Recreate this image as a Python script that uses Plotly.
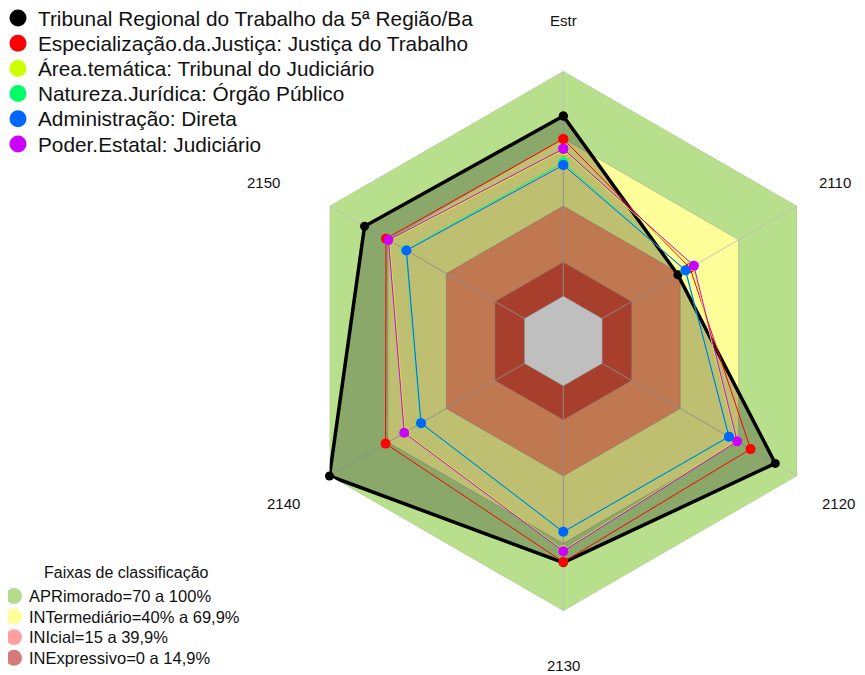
import plotly.graph_objects as go

# ---------------- data ----------------
axes_labels = ["Estr", "2110", "2120", "2130", "2140", "2150"]

series_names = [
    "Tribunal Regional do Trabalho da 5ª Região/Ba",
    "Especialização.da.Justiça: Justiça do Trabalho",
    "Área.temática: Tribunal do Judiciário",
    "Natureza.Jurídica: Órgão Público",
    "Administração: Direta",
    "Poder.Estatal: Judiciário",
]
tribunal = [80.0, 38.8, 88.8, 78.5, 100.0, 82.0]
especializacao = [69.8, 45.0, 76.1, 78.2, 71.2, 71.0]
area_tematica = [64.8, 46.5, 68.8, 73.0, 61.2, 69.3]
natureza = [59.3, 42.6, 65.2, 65.0, 53.2, 60.8]
administracao = [58.2, 42.8, 65.0, 64.8, 53.0, 60.5]
poder = [65.4, 47.0, 69.2, 73.4, 61.6, 69.7]
series_values = [tribunal, especializacao, area_tematica, natureza, administracao, poder]
series_colors = ["#000000", "#FF0000", "#CCFF00", "#00FF66", "#0066FF", "#CC00FF"]

band_title = "Faixas de classificação"
band_names = [
    "APRimorado=70 a 100%",
    "INTermediário=40% a 69,9%",
    "INIcial=15 a 39,9%",
    "INExpressivo=0 a 14,9%",
]
band_upper = [100, 70, 40, 15]
band_fill = ["#b8e08c", "#ffff99", "#ffa06b", "#e0553c"]
band_legend_colors = ["#b3dc8c", "#ffff99", "#ff9f9f", "#d47a7a"]
radial_min = -20

# ---------------- figure ----------------
W, H = 865, 675
OFF = 8  # page body margin of the viewer
FONT = "Liberation Sans, Arial, sans-serif"
closed_theta = axes_labels + axes_labels[:1]
fig = go.Figure()


def closed(vals):
    return list(vals) + [vals[0]]


# bands (outermost first)
for up, col in zip(band_upper, band_fill):
    fig.add_trace(go.Scatterpolar(
        r=closed([up] * len(axes_labels)), theta=closed_theta, mode="lines",
        fill="toself", fillcolor=col,
        line=dict(color="rgba(150,150,150,0.45)", width=1),
        showlegend=False, hoverinfo="skip"))
# empty centre (below 0)
fig.add_trace(go.Scatterpolar(
    r=closed([0] * len(axes_labels)), theta=closed_theta, mode="lines",
    fill="toself", fillcolor="#ffffff",
    line=dict(color="rgba(150,150,150,0.45)", width=1),
    showlegend=False, hoverinfo="skip"))

# spokes
sr, st = [], []
for a in axes_labels:
    sr += [0, band_upper[0], None]
    st += [a, a, None]
fig.add_trace(go.Scatterpolar(r=sr, theta=st, mode="lines",
                              line=dict(color="rgba(190,190,190,0.9)", width=1),
                              showlegend=False, hoverinfo="skip", connectgaps=False))

# series
for i, (name, vals, col) in enumerate(zip(series_names, series_values, series_colors)):
    first = i == 0
    fig.add_trace(go.Scatterpolar(
        r=closed(vals), theta=closed_theta, mode="lines+markers", name=name,
        fill="toself" if first else None,
        fillcolor="rgba(0,0,0,0.25)" if first else None,
        line=dict(color=col, width=3.5 if first else 1),
        marker=dict(color=col, size=9 if first else 10),
        showlegend=False))

# ---------- overlay in screen-pixel space (axis units = screenshot pixels) ----------
CX, CY = 563.3, 341.0
label_xy = [(563, 20), (835, 182), (838, 503), (563, 665), (283, 503), (263, 182)]
for lab, (lx, ly) in zip(axes_labels, label_xy):
    fig.add_annotation(x=lx, y=ly, xref="x", yref="y", text=lab, showarrow=False,
                       xanchor="center", yanchor="middle",
                       font=dict(size=15, color="#111", family=FONT))

leg1_x, leg1_y0, leg1_dy, leg1_text_x = 18, 18, 25.2, 36
leg1_y = [leg1_y0 + leg1_dy * i for i in range(len(series_names))]
fig.add_trace(go.Scatter(x=[leg1_x] * len(series_names), y=leg1_y, mode="markers",
                         marker=dict(color=series_colors, size=17),
                         showlegend=False, hoverinfo="skip", cliponaxis=False))
for name, y in zip(series_names, leg1_y):
    fig.add_annotation(x=leg1_text_x, y=y, xref="x", yref="y", text=name,
                       showarrow=False, xanchor="left", yanchor="middle",
                       font=dict(size=20.8, color="#111", family=FONT))

leg2_x, leg2_y0, leg2_dy, leg2_text_x = 14, 596, 20.6, 27
leg2_y = [leg2_y0 + leg2_dy * i for i in range(len(band_names))]
fig.add_trace(go.Scatter(x=[leg2_x] * len(band_names), y=leg2_y, mode="markers",
                         marker=dict(color=band_legend_colors, size=16),
                         showlegend=False, hoverinfo="skip", cliponaxis=False))
for name, y in zip(band_names, leg2_y):
    fig.add_annotation(x=leg2_text_x, y=y, xref="x", yref="y", text=name,
                       showarrow=False, xanchor="left", yanchor="middle",
                       font=dict(size=16.5, color="#111", family=FONT))
fig.add_annotation(x=126, y=572, xref="x", yref="y", text=band_title, showarrow=False,
                   xanchor="center", yanchor="middle",
                   font=dict(size=16, color="#111", family=FONT))

# polar placement (in figure pixels, corrected for the page offset)
pcx, pcy, phalf = CX - OFF, CY - OFF, 270.0
fig.update_layout(
    width=W, height=H,
    margin=dict(l=0, r=0, t=0, b=0, autoexpand=False),
    paper_bgcolor="white", plot_bgcolor="rgba(0,0,0,0)",
    font=dict(family=FONT, color="#111"),
    showlegend=False,
    xaxis=dict(domain=[0, 1], range=[OFF, W + OFF], visible=False, fixedrange=True),
    yaxis=dict(domain=[0, 1], range=[H + OFF, OFF], visible=False, fixedrange=True),
    polar=dict(
        domain=dict(x=[(pcx - phalf) / W, (pcx + phalf) / W],
                    y=[(H - pcy - phalf) / H, (H - pcy + phalf) / H]),
        gridshape="linear",
        bgcolor="rgba(0,0,0,0)",
        radialaxis=dict(visible=False, range=[radial_min, band_upper[0]]),
        angularaxis=dict(type="category", categoryarray=axes_labels, rotation=90,
                         direction="clockwise", showgrid=False, showline=False,
                         showticklabels=False, ticks=""),
    ),
)

fig.write_html("out.html")
